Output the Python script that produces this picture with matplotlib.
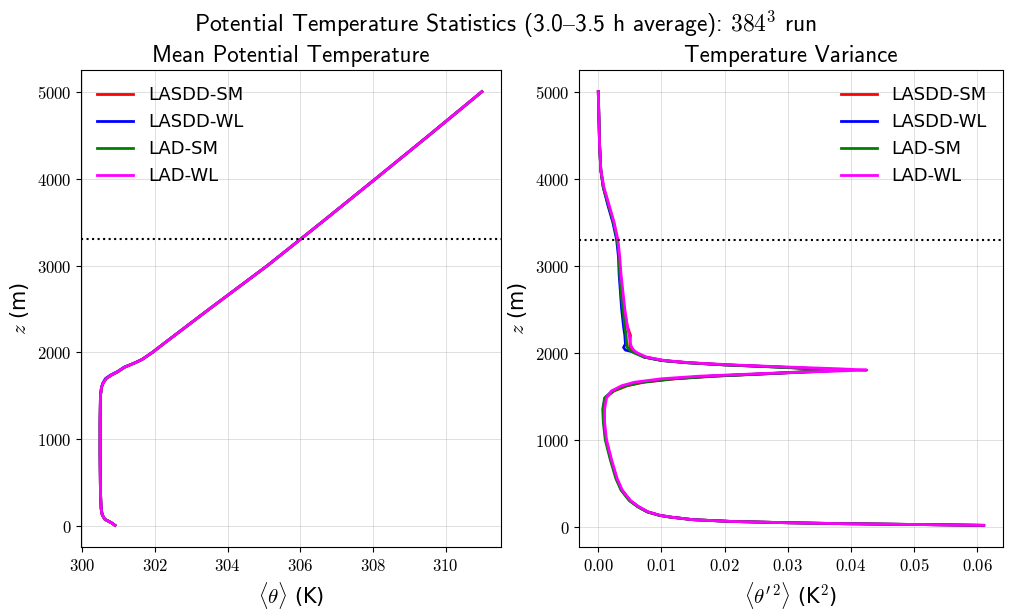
import matplotlib
matplotlib.use("Agg")
import matplotlib.pyplot as plt
from matplotlib.ticker import FuncFormatter

plt.rcParams['mathtext.fontset'] = 'cm'
plt.rcParams['font.family'] = ['DejaVu Sans']

labels = ["LASDD-SM", "LASDD-WL", "LAD-SM", "LAD-WL"]
colors = ["red", "blue", "green", "magenta"]

# Mean potential temperature profiles
z_mean = [10, 40, 80, 130, 200, 400, 800, 1200, 1500, 1600, 1650, 1700, 1740,
          1780, 1830, 1880, 1920, 2000, 2100, 2500, 3000, 3500, 4000, 4500, 5000]
theta_lasdd_sm = [300.90, 300.80, 300.62, 300.55, 300.52, 300.50, 300.49, 300.49, 300.50,
                  300.53, 300.58, 300.66, 300.81, 300.99, 301.17, 301.45, 301.65, 301.93,
                  302.24, 303.50, 305.10, 306.60, 308.08, 309.55, 311.00]
theta_lasdd_wl = [300.90, 300.80, 300.62, 300.55, 300.52, 300.50, 300.49, 300.49, 300.50,
                  300.53, 300.57, 300.64, 300.78, 300.97, 301.15, 301.45, 301.65, 301.93,
                  302.24, 303.50, 305.10, 306.60, 308.08, 309.55, 311.00]
theta_lad_sm = [300.90, 300.80, 300.62, 300.55, 300.52, 300.50, 300.49, 300.49, 300.50,
                300.53, 300.58, 300.66, 300.81, 300.99, 301.17, 301.45, 301.65, 301.93,
                302.24, 303.50, 305.10, 306.60, 308.08, 309.55, 311.00]
theta_lad_wl = [300.90, 300.80, 300.62, 300.55, 300.52, 300.50, 300.49, 300.49, 300.50,
                300.53, 300.58, 300.66, 300.80, 300.98, 301.16, 301.45, 301.65, 301.93,
                302.24, 303.50, 305.10, 306.60, 308.08, 309.55, 311.00]
theta_all = [theta_lasdd_sm, theta_lasdd_wl, theta_lad_sm, theta_lad_wl]

# Temperature variance profiles
z_var = [15, 25, 35, 45, 60, 80, 110, 130, 170, 230, 300, 420, 550, 770, 1000, 1200,
         1350, 1480, 1560, 1620, 1660, 1700, 1730, 1760, 1785, 1800, 1815, 1835, 1860,
         1885, 1910, 1950, 2000, 2030, 2060, 2100, 2200, 2300, 2500, 2700, 2900, 3100,
         3300, 3500, 3700, 3900, 4100, 4400, 4700, 5000]
var_lasdd_sm = [0.0610, 0.0500, 0.0380, 0.0300, 0.0210, 0.0150, 0.0114, 0.0097, 0.0078,
                0.0063, 0.0050, 0.0037, 0.0029, 0.0020, 0.0012, 0.0009, 0.0008, 0.0011,
                0.0025, 0.0046, 0.0072, 0.0122, 0.0185, 0.0275, 0.0345, 0.0390, 0.0345,
                0.0285, 0.0200, 0.0140, 0.0102, 0.0074, 0.0058, 0.0053, 0.0050, 0.0050,
                0.0051, 0.0046, 0.0041, 0.0038, 0.0035, 0.0033, 0.0030, 0.0024, 0.0016,
                0.0008, 0.0004, 0.0002, 0.0001, 0.0000]
var_lasdd_wl = [0.0610, 0.0500, 0.0380, 0.0300, 0.0210, 0.0150, 0.0114, 0.0097, 0.0078,
                0.0063, 0.0050, 0.0037, 0.0029, 0.0020, 0.0012, 0.0009, 0.0008, 0.0011,
                0.0022, 0.0042, 0.0066, 0.0115, 0.0178, 0.0272, 0.0350, 0.0395, 0.0350,
                0.0285, 0.0200, 0.0140, 0.0100, 0.0072, 0.0060, 0.0043, 0.0040, 0.0043,
                0.0042, 0.0040, 0.0037, 0.0035, 0.0033, 0.0032, 0.0029, 0.0023, 0.0015,
                0.0008, 0.0004, 0.0002, 0.0001, 0.0000]
var_lad_sm = [0.0610, 0.0500, 0.0380, 0.0300, 0.0210, 0.0150, 0.0113, 0.0096, 0.0077,
              0.0062, 0.0049, 0.0036, 0.0028, 0.0019, 0.0011, 0.0008, 0.0007, 0.0010,
              0.0023, 0.0044, 0.0069, 0.0118, 0.0180, 0.0270, 0.0335, 0.0374, 0.0335,
              0.0280, 0.0198, 0.0140, 0.0101, 0.0072, 0.0056, 0.0050, 0.0046, 0.0045,
              0.0044, 0.0042, 0.0039, 0.0036, 0.0034, 0.0033, 0.0030, 0.0024, 0.0016,
              0.0008, 0.0004, 0.0002, 0.0001, 0.0000]
var_lad_wl = [0.0610, 0.0500, 0.0380, 0.0300, 0.0210, 0.0150, 0.0115, 0.0098, 0.0079,
              0.0064, 0.0051, 0.0038, 0.0030, 0.0021, 0.0013, 0.0010, 0.0010, 0.0013,
              0.0021, 0.0037, 0.0057, 0.0100, 0.0160, 0.0260, 0.0360, 0.0425, 0.0380,
              0.0300, 0.0210, 0.0145, 0.0105, 0.0076, 0.0061, 0.0056, 0.0053, 0.0051,
              0.0049, 0.0046, 0.0042, 0.0039, 0.0036, 0.0034, 0.0031, 0.0025, 0.0017,
              0.0009, 0.0004, 0.0002, 0.0001, 0.0000]
var_all = [var_lasdd_sm, var_lasdd_wl, var_lad_sm, var_lad_wl]

z_ref = 3300

fig = plt.figure(figsize=(10.11, 6.11), dpi=100)
ax1 = fig.add_axes([0.0801, 0.1047, 0.4154, 0.7807])
ax2 = fig.add_axes([0.5727, 0.1047, 0.4194, 0.7807])

for th, lab, c in zip(theta_all, labels, colors):
    ax1.plot(th, z_mean, color=c, lw=2, label=lab)
for v, lab, c in zip(var_all, labels, colors):
    ax2.plot(v, z_var, color=c, lw=2, label=lab)

fmt_int = FuncFormatter(lambda x, p: r'$%d$' % round(x))
fmt_2f = FuncFormatter(lambda x, p: r'$%.2f$' % x)

for ax in (ax1, ax2):
    ax.axhline(z_ref, color='black', ls=':', lw=1.5)
    ax.grid(True, color='#b0b0b0', alpha=0.4, lw=0.7)
    ax.set_axisbelow(True)
    ax.yaxis.set_major_formatter(fmt_int)
    ax.tick_params(labelsize=12)
    ax.set_ylabel(r'$z$ (m)', fontsize=15)

ax1.xaxis.set_major_formatter(fmt_int)
ax2.xaxis.set_major_formatter(fmt_2f)
ax1.set_xticks([300, 302, 304, 306, 308, 310])
ax2.set_xticks([0.0, 0.01, 0.02, 0.03, 0.04, 0.05, 0.06])
ax1.set_yticks([0, 1000, 2000, 3000, 4000, 5000])
ax2.set_yticks([0, 1000, 2000, 3000, 4000, 5000])

ax1.set_xlabel(r'$\langle\theta\rangle$ (K)', fontsize=15)
ax2.set_xlabel(r"$\langle\theta'^2\rangle$ (K$^2$)", fontsize=15)

title_family = ['cmss10', 'DejaVu Sans']
ax1.set_title('Mean Potential Temperature', fontsize=16.5, family=title_family)
ax2.set_title('Temperature Variance', fontsize=16.5, family=title_family)
fig.suptitle('Potential Temperature Statistics (3.0$\u2013$3.5 h average): $384^3$ run',
             fontsize=17, y=0.985, family=title_family)

ax1.legend(loc='upper left', frameon=False, fontsize=13)
ax2.legend(loc='upper right', frameon=False, fontsize=13)

fig.savefig('out.png', dpi=100)
